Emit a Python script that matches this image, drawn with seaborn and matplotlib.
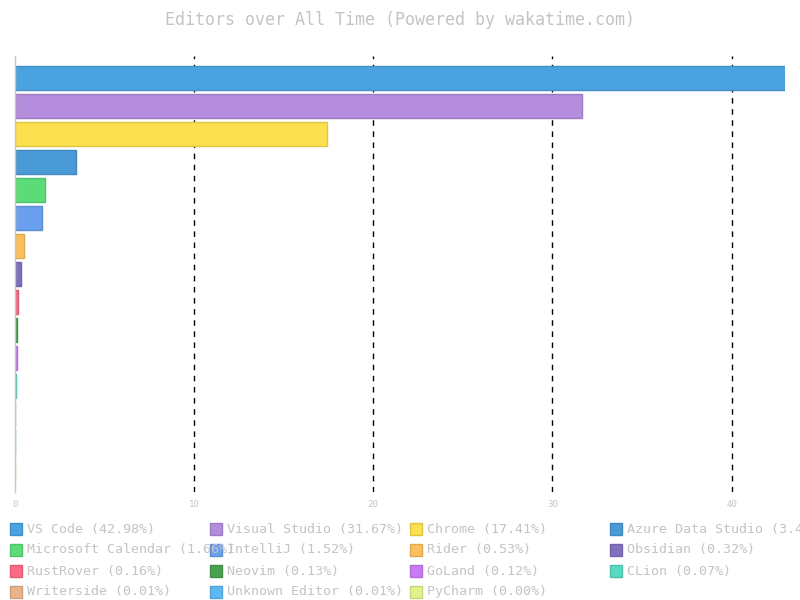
import matplotlib
matplotlib.use("Agg")
import matplotlib.pyplot as plt
import matplotlib.colors as mcolors
from matplotlib.patches import Rectangle
import seaborn as sns
import pandas as pd

editors = ["VS Code", "Visual Studio", "Chrome", "Azure Data Studio",
           "Microsoft Calendar", "IntelliJ", "Rider", "Obsidian",
           "RustRover", "Neovim", "GoLand", "CLion",
           "Writerside", "Unknown Editor", "PyCharm"]
percents = [42.98, 31.67, 17.41, 3.41, 1.66, 1.52, 0.53, 0.32,
            0.16, 0.13, 0.12, 0.07, 0.01, 0.01, 0.00]
colors = ["#4aa3e0", "#b48ddc", "#fde04e", "#4b9ad8", "#5bdc78", "#6aa0ee",
          "#fbbf5c", "#8070bd", "#fc6a86", "#4aa24e", "#c97bf5", "#58dac2",
          "#e9b48b", "#5db9f3", "#dff28b"]
title = "Editors over All Time (Powered by wakatime.com)"
xticks = [0, 10, 20, 30, 40]

sns.set_theme(style="white")
plt.rcParams['font.family'] = ['DejaVu Sans Mono', 'DejaVu Sans']
GRAY = "#c4c4c4"

df = pd.DataFrame({"editor": editors, "pct": percents})
pal = dict(zip(editors, colors))

fig = plt.figure(figsize=(8, 6), dpi=100)
ax = fig.add_axes([15/800, 1-492/600, 770/800, (492-56)/600])
sns.barplot(data=df, x="pct", y="editor", hue="editor", palette=pal,
            legend=False, width=0.86, orient="h", ax=ax, saturation=1)

for p, c in zip(ax.patches, colors):
    rgb = mcolors.to_rgb(c)
    edge = tuple(v * 0.88 for v in rgb)
    p.set_facecolor(rgb)
    p.set_edgecolor(edge)
    p.set_linewidth(1.0)

ax.set_xlim(0, 42.98)
ax.set_ylim(14.79, -0.79)
ax.set_xticks(xticks)
ax.set_xticklabels([str(t) for t in xticks], fontsize=6.6, color=GRAY)
ax.tick_params(axis="x", length=0, pad=6)
ax.set_yticks([])
ax.set_xlabel("")
ax.set_ylabel("")
for t in xticks[1:]:
    ax.axvline(t, color="black", linestyle=(0, (4, 4)), linewidth=1, zorder=0)
for s in ["top", "right", "bottom"]:
    ax.spines[s].set_visible(False)
ax.spines["left"].set_color("#c8c8c8")
ax.spines["left"].set_linewidth(1)

fig.text(0.5, 1-20/600, title, ha="center", va="center", fontsize=12, color=GRAY)

# legend laid out in rows of 4
col_x = [10, 210, 410, 610]
row_y = [529, 550, 571, 592]
for i, (name, pct, c) in enumerate(zip(editors, percents, colors)):
    r, k = divmod(i, 4)
    x0 = col_x[k]
    yc = row_y[r]
    rgb = mcolors.to_rgb(c)
    fig.patches.append(Rectangle((x0/800, 1-(yc+6)/600), 12/800, 12/600,
                                 transform=fig.transFigure, facecolor=rgb,
                                 edgecolor=tuple(v*0.88 for v in rgb), linewidth=1))
    fig.text((x0+17)/800, 1-yc/600, f"{name} ({pct:.2f}%)", ha="left", va="center",
             fontsize=9.6, color=GRAY)

fig.savefig("out.png", dpi=100)
